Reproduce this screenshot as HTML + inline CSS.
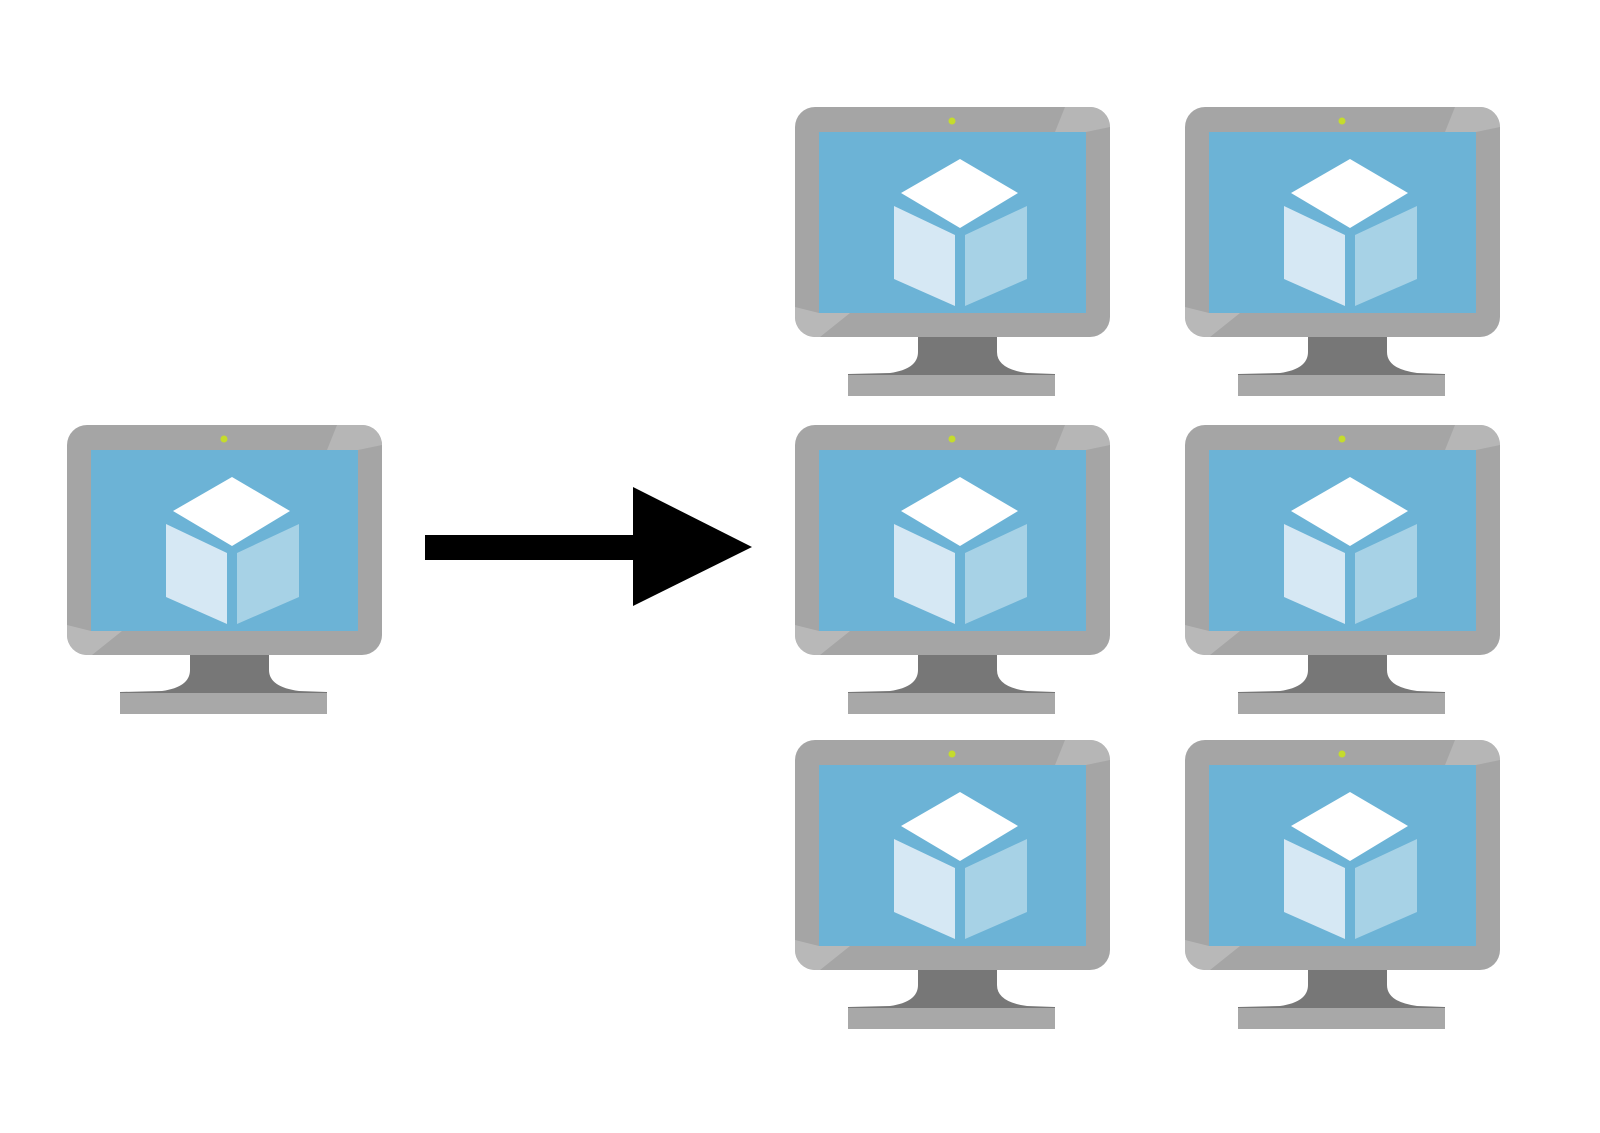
<!DOCTYPE html>
<html><head><style>body{margin:0;background:#fff}svg{display:block}</style></head><body>
<svg width="1600" height="1133" viewBox="0 0 1600 1133">
<defs>
<clipPath id="c"><rect x="0" y="0" width="315" height="230" rx="20"/></clipPath>
<g id="m">
<g clip-path="url(#c)">
<rect x="0" y="0" width="315" height="230" fill="#a5a5a5"/>
<polygon points="270,0 315,0 315,20 291,25 260,25" fill="#b6b6b6"/>
<polygon points="0,200 24,206 55,206 25,230 0,230" fill="#b8b8b8"/>
</g>
<rect x="24" y="25" width="267" height="181" fill="#6cb3d6"/>
<circle cx="157" cy="14" r="3.5" fill="#c5dc2c"/>
<polygon points="165,52 223,86 165,121 106,86" fill="#ffffff"/>
<polygon points="99,99 160,128 160,199 99,172" fill="#d6e8f4"/>
<polygon points="170,128 232,99 232,172 170,199" fill="#a7d2e6"/>
<path d="M123 230 H202 V245 Q202 262 232 266 L260 267 V270 H53 V267 L95 266 Q123 262 123 245 Z" fill="#777"/>
<rect x="53" y="268" width="207" height="21" fill="#a8a8a8"/>
</g>
</defs>
<use href="#m" x="67" y="425"/>
<use href="#m" x="795" y="107"/>
<use href="#m" x="1185" y="107"/>
<use href="#m" x="795" y="425"/>
<use href="#m" x="1185" y="425"/>
<use href="#m" x="795" y="740"/>
<use href="#m" x="1185" y="740"/>
<rect x="425" y="535" width="212" height="25" fill="#000"/>
<polygon points="633,487 752,547 633,606" fill="#000"/>
</svg>
</body></html>
